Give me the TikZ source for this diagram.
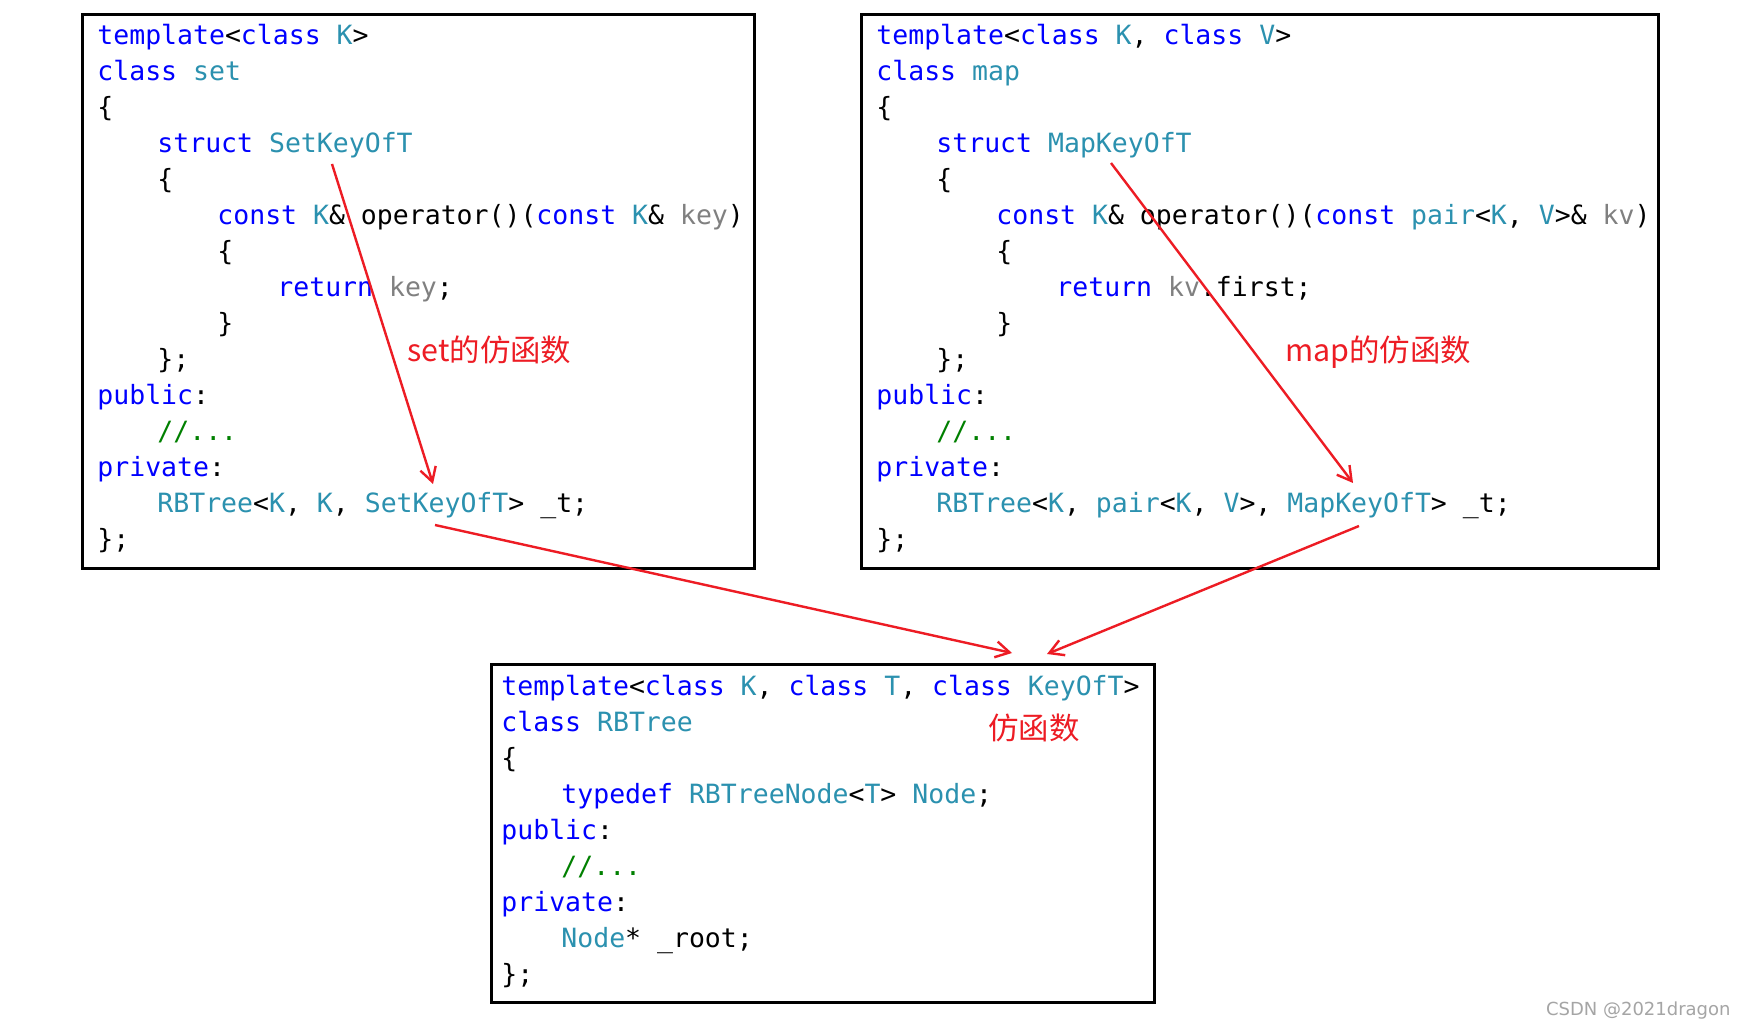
\documentclass[tikz,border=0pt]{standalone}
\usepackage{fontspec}
\setmonofont{DejaVu Sans Mono}
\newfontfamily\cjkfont{Noto Sans CJK SC}
\newfontfamily\markfont{DejaVu Sans}
\usetikzlibrary{arrows.meta}
\definecolor{rbkwblue}{RGB}{0,0,255}
\definecolor{rbtyteal}{RGB}{43,145,175}
\definecolor{rbpagray}{RGB}{128,128,128}
\definecolor{rbcmgreen}{RGB}{0,128,0}
\definecolor{rbred}{RGB}{237,28,36}
\definecolor{rbmarkgray}{RGB}{165,165,165}
\newcommand\rbkw[1]{\textcolor{rbkwblue}{#1}}
\newcommand\rbty[1]{\textcolor{rbtyteal}{#1}}
\newcommand\rbpa[1]{\textcolor{rbpagray}{#1}}
\newcommand\rbcm[1]{\textcolor{rbcmgreen}{#1}}
\newcommand\rbtab{\hspace*{30pt}}
\tikzset{
  rbbox/.style   = {draw, line width=1.5pt, anchor=north west, inner sep=0pt},
  rbcode/.style  = {anchor=base west, inner sep=0pt, align=left,
                    font=\ttfamily\fontsize{13.25}{18}\selectfont},
  rbnote/.style  = {text=rbred, anchor=west, inner sep=0pt,
                    font=\cjkfont\fontsize{15.2}{17}\selectfont},
  rbarrow/.style = {draw=rbred, line width=1.2pt,
                    -{Straight Barb[length=7pt,width=8pt]}},
  rbmark/.style  = {text=rbmarkgray, anchor=east, inner sep=0pt,
                    font=\markfont\fontsize{9}{11}\selectfont}
}
\begin{document}
\begin{tikzpicture}[x=0.5pt, y=-0.5pt]
  \path[use as bounding box, fill=white] (0,0) rectangle (1745,1031);

  % the three classes
  \node[rbbox, minimum width=336pt,   minimum height=277pt] (setbox) at (81,13)  {};
  \node[rbbox, minimum width=398.5pt, minimum height=277pt] (mapbox) at (860,13) {};
  \node[rbbox, minimum width=331.5pt, minimum height=169pt] (treebox) at (490,663) {};

  % base = baseline of the last line
  \node[rbcode] (setcode) at (97,549) {%
    \rbkw{template}<\rbkw{class} \rbty{K}>\\
    \rbkw{class} \rbty{set}\\
    \{\\
    \rbtab\rbkw{struct} \rbty{SetKeyOfT}\\
    \rbtab\{\\
    \rbtab\rbtab\rbkw{const} \rbty{K}\& operator()(\rbkw{const} \rbty{K}\& \rbpa{key})\\
    \rbtab\rbtab\{\\
    \rbtab\rbtab\rbtab\rbkw{return} \rbpa{key};\\
    \rbtab\rbtab\}\\
    \rbtab\};\\
    \rbkw{public}:\\
    \rbtab\rbcm{//...}\\
    \rbkw{private}:\\
    \rbtab\rbty{RBTree}<\rbty{K}, \rbty{K}, \rbty{SetKeyOfT}> \_t;\\
    \};};

  \node[rbcode] (mapcode) at (876,549) {%
    \rbkw{template}<\rbkw{class} \rbty{K}, \rbkw{class} \rbty{V}>\\
    \rbkw{class} \rbty{map}\\
    \{\\
    \rbtab\rbkw{struct} \rbty{MapKeyOfT}\\
    \rbtab\{\\
    \rbtab\rbtab\rbkw{const} \rbty{K}\& operator()(\rbkw{const} \rbty{pair}<\rbty{K}, \rbty{V}>\& \rbpa{kv})\\
    \rbtab\rbtab\{\\
    \rbtab\rbtab\rbtab\rbkw{return} \rbpa{kv}.first;\\
    \rbtab\rbtab\}\\
    \rbtab\};\\
    \rbkw{public}:\\
    \rbtab\rbcm{//...}\\
    \rbkw{private}:\\
    \rbtab\rbty{RBTree}<\rbty{K}, \rbty{pair}<\rbty{K}, \rbty{V}>, \rbty{MapKeyOfT}> \_t;\\
    \};};

  \node[rbcode] (treecode) at (501,983) {%
    \rbkw{template}<\rbkw{class} \rbty{K}, \rbkw{class} \rbty{T}, \rbkw{class} \rbty{KeyOfT}>\\
    \rbkw{class} \rbty{RBTree}\\
    \{\\
    \rbtab\rbkw{typedef} \rbty{RBTreeNode}<\rbty{T}> \rbty{Node};\\
    \rbkw{public}:\\
    \rbtab\rbcm{//...}\\
    \rbkw{private}:\\
    \rbtab\rbty{Node}* \_root;\\
    \};};

  % notes
  \node[rbnote] (setnote)  at (407,350)  {set的仿函数};
  \node[rbnote] (mapnote)  at (1285,352) {map的仿函数};
  \node[rbnote] (treenote) at (988,728)  {仿函数};

  % arrow ends
  \coordinate (setfun)  at (332,164);
  \coordinate (setarg)  at (433,484);
  \coordinate (settree) at (435,525);
  \coordinate (mapfun)  at (1111,163);
  \coordinate (maparg)  at (1353,483);
  \coordinate (maptree) at (1359,526);
  \coordinate (keyinA)  at (1012,653);
  \coordinate (keyinB)  at (1047,654);

  \draw[rbarrow] (setfun)  -- (setarg);
  \draw[rbarrow] (mapfun)  -- (maparg);
  \draw[rbarrow] (settree) -- (keyinA);
  \draw[rbarrow] (maptree) -- (keyinB);

  \node[rbmark] (mark) at (1731,1011) {CSDN @2021dragon};
\end{tikzpicture}
\end{document}
